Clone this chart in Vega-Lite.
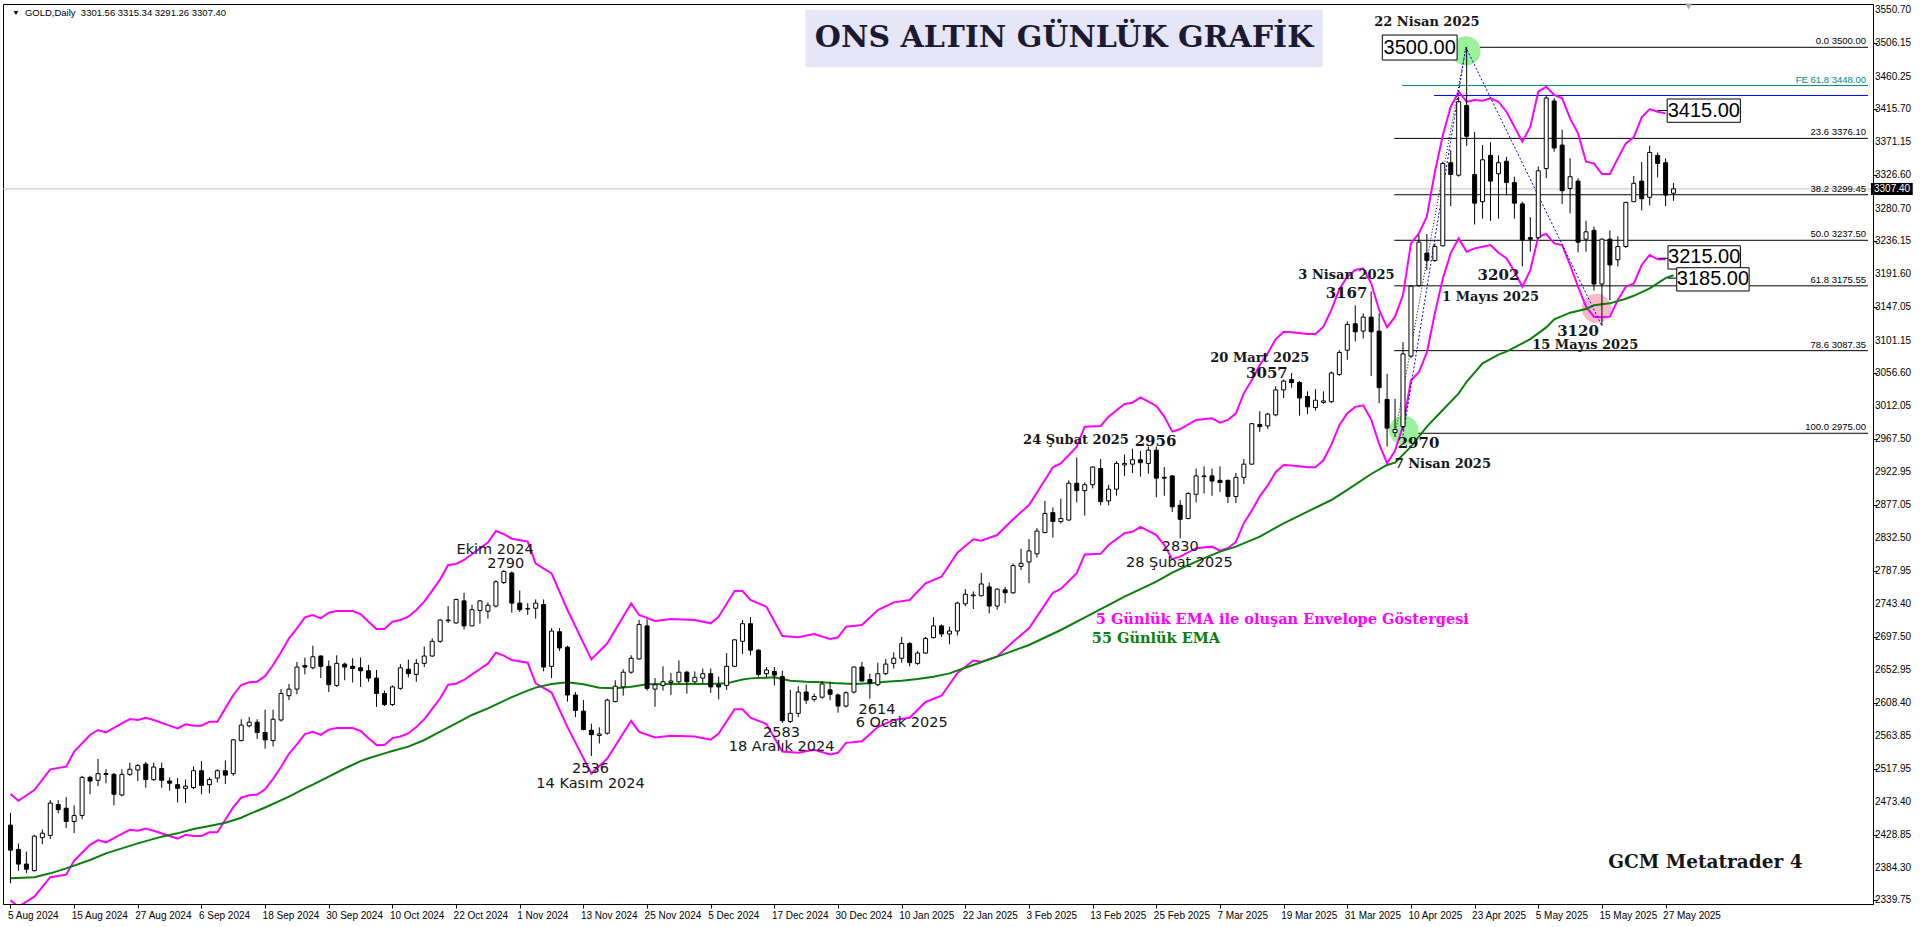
{
"$schema": "https://vega.github.io/schema/vega-lite/v6.json",
"width": 1870, "height": 900,
"autosize": {"type": "none"},
"padding": {"left": 3, "top": 4, "right": 47, "bottom": 23},
"background": "white",
"config": {
  "view": {"stroke": "black", "strokeWidth": 1},
  "axis": {"labelFont": "Liberation Sans", "labelFontSize": 10, "labelColor": "black", "domainColor": "black", "tickColor": "black", "grid": false, "tickSize": 4, "labelFlush": false}
},
"datasets": {
"one": [{}],
"yt": [{"v":3550.70},{"v":3506.15},{"v":3460.25},{"v":3415.70},{"v":3371.15},{"v":3326.60},{"v":3280.70},{"v":3236.15},{"v":3191.60},{"v":3147.05},{"v":3101.15},{"v":3056.60},{"v":3012.05},{"v":2967.50},{"v":2922.95},{"v":2877.05},{"v":2832.50},{"v":2787.95},{"v":2743.40},{"v":2697.50},{"v":2652.95},{"v":2608.40},{"v":2563.85},{"v":2517.95},{"v":2473.40},{"v":2428.85},{"v":2384.30},{"v":2339.75}],
"c": [
{"i":0,"o":2442,"h":2459,"l":2363,"c":2408},{"i":1,"o":2409,"h":2417,"l":2380,"c":2389},{"i":2,"o":2389,"h":2406,"l":2377,"c":2382},{"i":3,"o":2380,"h":2429,"l":2379,"c":2427},{"i":4,"o":2425,"h":2436,"l":2416,"c":2431},
{"i":5,"o":2428,"h":2476,"l":2423,"c":2472},{"i":6,"o":2470,"h":2476,"l":2458,"c":2463},{"i":7,"o":2465,"h":2480,"l":2438,"c":2447},{"i":8,"o":2447,"h":2469,"l":2431,"c":2455},{"i":9,"o":2455,"h":2509,"l":2450,"c":2507},
{"i":10,"o":2507,"h":2509,"l":2484,"c":2502},{"i":11,"o":2503,"h":2532,"l":2495,"c":2512},{"i":12,"o":2512,"h":2518,"l":2499,"c":2511},{"i":13,"o":2511,"h":2513,"l":2469,"c":2484},{"i":14,"o":2483,"h":2518,"l":2481,"c":2511},
{"i":15,"o":2511,"h":2527,"l":2509,"c":2518},{"i":16,"o":2517,"h":2525,"l":2502,"c":2523},{"i":17,"o":2525,"h":2528,"l":2493,"c":2504},{"i":18,"o":2504,"h":2527,"l":2502,"c":2521},{"i":19,"o":2519,"h":2527,"l":2493,"c":2503},
{"i":20,"o":2502,"h":2507,"l":2489,"c":2499},{"i":21,"o":2497,"h":2506,"l":2473,"c":2492},{"i":22,"o":2492,"h":2504,"l":2472,"c":2495},{"i":23,"o":2493,"h":2522,"l":2491,"c":2516},{"i":24,"o":2516,"h":2529,"l":2484,"c":2496},
{"i":25,"o":2497,"h":2507,"l":2485,"c":2504},{"i":26,"o":2506,"h":2518,"l":2500,"c":2516},{"i":27,"o":2516,"h":2530,"l":2498,"c":2510},{"i":28,"o":2512,"h":2559,"l":2509,"c":2558},{"i":29,"o":2557,"h":2586,"l":2556,"c":2578},
{"i":30,"o":2577,"h":2589,"l":2575,"c":2582},{"i":31,"o":2582,"h":2586,"l":2559,"c":2568},{"i":32,"o":2568,"h":2599,"l":2546,"c":2558},{"i":33,"o":2557,"h":2599,"l":2549,"c":2586},{"i":34,"o":2585,"h":2627,"l":2583,"c":2621},
{"i":35,"o":2618,"h":2634,"l":2612,"c":2627},{"i":36,"o":2627,"h":2664,"l":2620,"c":2657},{"i":37,"o":2659,"h":2670,"l":2647,"c":2657},{"i":38,"o":2656,"h":2686,"l":2654,"c":2671},{"i":39,"o":2672,"h":2673,"l":2642,"c":2658},
{"i":40,"o":2658,"h":2666,"l":2623,"c":2633},{"i":41,"o":2632,"h":2673,"l":2630,"c":2662},{"i":42,"o":2661,"h":2663,"l":2639,"c":2657},{"i":43,"o":2658,"h":2669,"l":2636,"c":2655},{"i":44,"o":2656,"h":2670,"l":2630,"c":2652},
{"i":45,"o":2652,"h":2660,"l":2637,"c":2642},{"i":46,"o":2642,"h":2653,"l":2603,"c":2621},{"i":47,"o":2621,"h":2625,"l":2604,"c":2606},{"i":48,"o":2606,"h":2632,"l":2604,"c":2630},{"i":49,"o":2628,"h":2661,"l":2626,"c":2656},
{"i":50,"o":2654,"h":2667,"l":2643,"c":2648},{"i":51,"o":2647,"h":2668,"l":2637,"c":2662},{"i":52,"o":2662,"h":2685,"l":2657,"c":2672},{"i":53,"o":2672,"h":2696,"l":2671,"c":2692},{"i":54,"o":2692,"h":2722,"l":2690,"c":2721},
{"i":55,"o":2720,"h":2740,"l":2717,"c":2721},{"i":56,"o":2717,"h":2750,"l":2716,"c":2749},{"i":57,"o":2747,"h":2758,"l":2708,"c":2713},{"i":58,"o":2713,"h":2742,"l":2713,"c":2735},{"i":59,"o":2734,"h":2748,"l":2716,"c":2747},
{"i":60,"o":2733,"h":2745,"l":2723,"c":2741},{"i":61,"o":2740,"h":2775,"l":2738,"c":2773},{"i":62,"o":2772,"h":2789,"l":2770,"c":2787},{"i":63,"o":2785,"h":2787,"l":2731,"c":2744},{"i":64,"o":2744,"h":2761,"l":2732,"c":2735},
{"i":65,"o":2736,"h":2744,"l":2728,"c":2736.5},{"i":66,"o":2737,"h":2749,"l":2723,"c":2744},{"i":67,"o":2742,"h":2749,"l":2651,"c":2657},{"i":68,"o":2658,"h":2710,"l":2642,"c":2706},{"i":69,"o":2705,"h":2710,"l":2679,"c":2683},
{"i":70,"o":2684,"h":2686,"l":2610,"c":2619},{"i":71,"o":2619,"h":2623,"l":2589,"c":2598},{"i":72,"o":2597,"h":2612,"l":2571,"c":2572},{"i":73,"o":2571,"h":2580,"l":2536,"c":2565},{"i":74,"o":2564,"h":2575,"l":2553,"c":2566},
{"i":75,"o":2567,"h":2614,"l":2565,"c":2612},{"i":76,"o":2610,"h":2639,"l":2609,"c":2631},{"i":77,"o":2630,"h":2654,"l":2618,"c":2650},{"i":78,"o":2650,"h":2673,"l":2648,"c":2669},{"i":79,"o":2668,"h":2721,"l":2667,"c":2715},
{"i":80,"o":2713,"h":2722,"l":2625,"c":2628},{"i":81,"o":2627,"h":2642,"l":2603,"c":2633},{"i":82,"o":2632,"h":2658,"l":2625,"c":2637},{"i":83,"o":2636,"h":2649,"l":2619,"c":2638},{"i":84,"o":2637,"h":2666,"l":2635,"c":2650},
{"i":85,"o":2650,"h":2652,"l":2621,"c":2637},{"i":86,"o":2637,"h":2651,"l":2634,"c":2643},{"i":87,"o":2642,"h":2655,"l":2635,"c":2648},{"i":88,"o":2648,"h":2655,"l":2622,"c":2630},{"i":89,"o":2633,"h":2644,"l":2613,"c":2630},
{"i":90,"o":2632,"h":2676,"l":2626,"c":2658},{"i":91,"o":2658,"h":2695,"l":2657,"c":2694},{"i":92,"o":2692,"h":2721,"l":2675,"c":2716},{"i":93,"o":2716,"h":2725,"l":2673,"c":2680},{"i":94,"o":2680,"h":2681,"l":2644,"c":2647},
{"i":95,"o":2648,"h":2657,"l":2643,"c":2653},{"i":96,"o":2651,"h":2657,"l":2632,"c":2646},{"i":97,"o":2644,"h":2652,"l":2581,"c":2584},{"i":98,"o":2583,"h":2626,"l":2581,"c":2594},{"i":99,"o":2594,"h":2631,"l":2589,"c":2623},
{"i":100,"o":2623,"h":2633,"l":2607,"c":2612},{"i":101,"o":2613,"h":2621,"l":2610,"c":2617},{"i":102,"o":2616,"h":2638,"l":2614,"c":2634},{"i":103,"o":2626,"h":2637,"l":2612,"c":2620},{"i":104,"o":2619,"h":2621,"l":2595,"c":2604},
{"i":105,"o":2604,"h":2624,"l":2602,"c":2622},{"i":106,"o":2623,"h":2658,"l":2621,"c":2657},{"i":107,"o":2657,"h":2664,"l":2637,"c":2638},{"i":108,"o":2640,"h":2648,"l":2614,"c":2635},{"i":109,"o":2633,"h":2663,"l":2631,"c":2648},
{"i":110,"o":2648,"h":2668,"l":2646,"c":2661},{"i":111,"o":2662,"h":2677,"l":2655,"c":2669},{"i":112,"o":2669,"h":2698,"l":2663,"c":2689},{"i":113,"o":2689,"h":2691,"l":2658,"c":2663},{"i":114,"o":2662,"h":2679,"l":2660,"c":2676},
{"i":115,"o":2676,"h":2698,"l":2675,"c":2696},{"i":116,"o":2697,"h":2725,"l":2696,"c":2713},{"i":117,"o":2713,"h":2715,"l":2698,"c":2702},{"i":118,"o":2702,"h":2712,"l":2688,"c":2706},{"i":119,"o":2706,"h":2746,"l":2700,"c":2744},
{"i":120,"o":2743,"h":2763,"l":2740,"c":2756},{"i":121,"o":2754,"h":2760,"l":2736,"c":2755},{"i":122,"o":2754,"h":2785,"l":2753,"c":2770},{"i":123,"o":2766,"h":2772,"l":2730,"c":2740},{"i":124,"o":2740,"h":2764,"l":2735,"c":2763},
{"i":125,"o":2762,"h":2766,"l":2744,"c":2758},{"i":126,"o":2758,"h":2798,"l":2757,"c":2795},{"i":127,"o":2794,"h":2818,"l":2789,"c":2798},{"i":128,"o":2800,"h":2831,"l":2771,"c":2815},{"i":129,"o":2811,"h":2846,"l":2806,"c":2842},
{"i":130,"o":2840,"h":2883,"l":2839,"c":2866},{"i":131,"o":2867,"h":2874,"l":2833,"c":2855},{"i":132,"o":2855,"h":2886,"l":2852,"c":2859},{"i":133,"o":2857,"h":2911,"l":2856,"c":2907},{"i":134,"o":2907,"h":2942,"l":2881,"c":2897},
{"i":135,"o":2897,"h":2908,"l":2863,"c":2905},{"i":136,"o":2905,"h":2930,"l":2900,"c":2929},{"i":137,"o":2927,"h":2940,"l":2877,"c":2882},{"i":138,"o":2883,"h":2905,"l":2877,"c":2899},{"i":139,"o":2899,"h":2937,"l":2890,"c":2934},
{"i":140,"o":2932,"h":2946,"l":2917,"c":2934},{"i":141,"o":2933,"h":2954,"l":2921,"c":2939},{"i":142,"o":2939,"h":2951,"l":2916,"c":2935},{"i":143,"o":2934,"h":2957,"l":2920,"c":2952},{"i":144,"o":2952,"h":2957,"l":2888,"c":2914},
{"i":145,"o":2915,"h":2929,"l":2890,"c":2914},{"i":146,"o":2917,"h":2918,"l":2868,"c":2875},{"i":147,"o":2877,"h":2884,"l":2832,"c":2858},{"i":148,"o":2859,"h":2895,"l":2858,"c":2893},{"i":149,"o":2892,"h":2927,"l":2881,"c":2917},
{"i":150,"o":2916,"h":2930,"l":2893,"c":2917},{"i":151,"o":2917,"h":2927,"l":2890,"c":2910},{"i":152,"o":2911,"h":2930,"l":2895,"c":2908},{"i":153,"o":2911,"h":2912,"l":2880,"c":2889},{"i":154,"o":2889,"h":2921,"l":2880,"c":2915},
{"i":155,"o":2915,"h":2940,"l":2906,"c":2933},{"i":156,"o":2933,"h":2989,"l":2932,"c":2988},{"i":157,"o":2987,"h":3005,"l":2977,"c":2984},{"i":158,"o":2985,"h":3003,"l":2981,"c":3001},{"i":159,"o":3000,"h":3039,"l":2998,"c":3034},
{"i":160,"o":3034,"h":3048,"l":3023,"c":3046},{"i":161,"o":3048,"h":3057,"l":3037,"c":3044},{"i":162,"o":3044,"h":3046,"l":2999,"c":3023},{"i":163,"o":3025,"h":3032,"l":3001,"c":3011},{"i":164,"o":3010,"h":3035,"l":3006,"c":3020},
{"i":165,"o":3017,"h":3032,"l":3015,"c":3019},{"i":166,"o":3018,"h":3059,"l":3016,"c":3057},{"i":167,"o":3055,"h":3088,"l":3053,"c":3085},{"i":168,"o":3088,"h":3127,"l":3075,"c":3123},{"i":169,"o":3124,"h":3149,"l":3100,"c":3113},
{"i":170,"o":3114,"h":3138,"l":3104,"c":3133},{"i":171,"o":3133,"h":3168,"l":3053,"c":3113},{"i":172,"o":3114,"h":3138,"l":3016,"c":3037},{"i":173,"o":3021,"h":3056,"l":2957,"c":2982},{"i":174,"o":2976,"h":3022,"l":2970,"c":2980},
{"i":175,"o":2984,"h":3099,"l":2979,"c":3083},{"i":176,"o":3080,"h":3176,"l":3077,"c":3175},{"i":177,"o":3176,"h":3245,"l":3174,"c":3235},{"i":178,"o":3220,"h":3246,"l":3197,"c":3210},{"i":179,"o":3210,"h":3233,"l":3208,"c":3229},
{"i":180,"o":3230,"h":3344,"l":3229,"c":3342},{"i":181,"o":3343,"h":3360,"l":3284,"c":3327},{"i":182,"o":3326,"h":3433,"l":3324,"c":3426},{"i":183,"o":3421,"h":3500,"l":3366,"c":3379},{"i":184,"o":3327,"h":3385,"l":3259,"c":3288},
{"i":185,"o":3290,"h":3367,"l":3267,"c":3347},{"i":186,"o":3353,"h":3371,"l":3264,"c":3318},{"i":187,"o":3328,"h":3353,"l":3267,"c":3343},{"i":188,"o":3345,"h":3351,"l":3299,"c":3316},{"i":189,"o":3316,"h":3324,"l":3267,"c":3288},
{"i":190,"o":3287,"h":3290,"l":3202,"c":3238},{"i":191,"o":3241,"h":3269,"l":3222,"c":3239},{"i":192,"o":3241,"h":3338,"l":3239,"c":3332},{"i":193,"o":3335,"h":3434,"l":3322,"c":3431},{"i":194,"o":3427,"h":3431,"l":3358,"c":3363},
{"i":195,"o":3367,"h":3388,"l":3287,"c":3305},{"i":196,"o":3308,"h":3349,"l":3274,"c":3324},{"i":197,"o":3318,"h":3322,"l":3221,"c":3235},{"i":198,"o":3239,"h":3264,"l":3222,"c":3249},{"i":199,"o":3251,"h":3256,"l":3169,"c":3178},
{"i":200,"o":3178,"h":3240,"l":3121,"c":3239},{"i":201,"o":3239,"h":3251,"l":3156,"c":3204},{"i":202,"o":3211,"h":3243,"l":3202,"c":3229},{"i":203,"o":3229,"h":3290,"l":3227,"c":3289},{"i":204,"o":3290,"h":3325,"l":3290,"c":3315},
{"i":205,"o":3318,"h":3344,"l":3278,"c":3294},{"i":206,"o":3296,"h":3366,"l":3285,"c":3357},{"i":207,"o":3353,"h":3357,"l":3323,"c":3342},{"i":208,"o":3343,"h":3349,"l":3284,"c":3299},{"i":209,"o":3301.56,"h":3315.34,"l":3291.26,"c":3307.4}
],
"env": [
{"i":0,"u":2484.3,"lo":2339.6},{"i":1,"u":2475.2,"lo":2331.0},{"i":3,"u":2489.7,"lo":2344.7},{"i":5,"u":2517.9,"lo":2371.2},{"i":7,"u":2521.5,"lo":2374.6},{"i":8,"u":2541.9,"lo":2393.8},
{"i":10,"u":2564.6,"lo":2415.2},{"i":11,"u":2571.4,"lo":2421.6},{"i":12,"u":2568.2,"lo":2418.6},{"i":14,"u":2580.4,"lo":2430.1},{"i":15,"u":2586.3,"lo":2435.7},{"i":16,"u":2585,"lo":2434.4},
{"i":17,"u":2588.1,"lo":2437.4},{"i":18,"u":2585,"lo":2434.4},{"i":20,"u":2577.3,"lo":2427.2},{"i":21,"u":2573.6,"lo":2423.7},{"i":22,"u":2579.1,"lo":2428.9},{"i":23,"u":2577.3,"lo":2427.2},
{"i":24,"u":2577.3,"lo":2427.2},{"i":25,"u":2582.7,"lo":2432.3},{"i":26,"u":2582.7,"lo":2432.3},{"i":27,"u":2600.8,"lo":2449.3},{"i":28,"u":2619,"lo":2466.4},{"i":29,"u":2632.6,"lo":2479.3},
{"i":30,"u":2636.2,"lo":2482.7},{"i":31,"u":2637.1,"lo":2483.5},{"i":32,"u":2644.8,"lo":2490.8},{"i":33,"u":2659.8,"lo":2504.9},{"i":34,"u":2677,"lo":2521.1},{"i":35,"u":2696,"lo":2539.0},
{"i":36,"u":2709.6,"lo":2551.8},{"i":37,"u":2724.6,"lo":2565.9},{"i":38,"u":2727.8,"lo":2568.9},{"i":39,"u":2723.3,"lo":2564.7},{"i":40,"u":2731,"lo":2571.9},{"i":41,"u":2733.2,"lo":2574.0},
{"i":43,"u":2733.2,"lo":2574.0},{"i":44,"u":2729.1,"lo":2570.1},{"i":45,"u":2718.7,"lo":2560.3},{"i":46,"u":2708.7,"lo":2550.9},{"i":47,"u":2708.7,"lo":2550.9},{"i":48,"u":2718.7,"lo":2560.3},
{"i":49,"u":2721,"lo":2562.5},{"i":50,"u":2725.5,"lo":2566.7},{"i":51,"u":2734.6,"lo":2575.3},{"i":52,"u":2745.9,"lo":2585.9},{"i":53,"u":2760.9,"lo":2600.1},{"i":54,"u":2776.3,"lo":2614.6},
{"i":55,"u":2795.8,"lo":2633.0},{"i":56,"u":2797.2,"lo":2634.3},{"i":57,"u":2802.6,"lo":2639.4},{"i":58,"u":2810.8,"lo":2647.1},{"i":59,"u":2818.5,"lo":2654.3},{"i":60,"u":2826.2,"lo":2661.6},
{"i":61,"u":2842.1,"lo":2676.5},{"i":62,"u":2837.8,"lo":2672.5},{"i":63,"u":2831.6,"lo":2666.6},{"i":65,"u":2827.7,"lo":2663.0},{"i":66,"u":2797.8,"lo":2634.8},{"i":68,"u":2784.5,"lo":2622.3},
{"i":70,"u":2734.6,"lo":2575.3},{"i":73,"u":2667.5,"lo":2512.2},{"i":75,"u":2689.3,"lo":2532.6},{"i":78,"u":2743.7,"lo":2583.9},{"i":79,"u":2727.8,"lo":2568.9},{"i":81,"u":2719.6,"lo":2561.2},
{"i":83,"u":2722.3,"lo":2563.7},{"i":86,"u":2721,"lo":2562.5},{"i":88,"u":2716.5,"lo":2558.3},{"i":89,"u":2725.5,"lo":2566.7},{"i":91,"u":2760.4,"lo":2599.6},{"i":92,"u":2760.4,"lo":2599.6},
{"i":93,"u":2748.2,"lo":2588.1},{"i":95,"u":2739.1,"lo":2579.6},{"i":97,"u":2699.2,"lo":2542.0},{"i":99,"u":2697.4,"lo":2540.3},{"i":101,"u":2701.9,"lo":2544.5},{"i":103,"u":2695.1,"lo":2538.1},
{"i":104,"u":2697.4,"lo":2540.3},{"i":105,"u":2711.9,"lo":2553.9},{"i":107,"u":2714.2,"lo":2556.1},{"i":109,"u":2734.6,"lo":2575.3},{"i":111,"u":2745,"lo":2585.1},{"i":113,"u":2748.2,"lo":2588.1},
{"i":115,"u":2770.9,"lo":2609.5},{"i":117,"u":2779.9,"lo":2618.0},{"i":119,"u":2812.6,"lo":2648.8},{"i":121,"u":2830.7,"lo":2665.8},{"i":122,"u":2828.9,"lo":2664.1},{"i":124,"u":2836.6,"lo":2671.4},
{"i":126,"u":2858,"lo":2691.5},{"i":128,"u":2877.4,"lo":2709.8},{"i":130,"u":2911.5,"lo":2741.9},{"i":131,"u":2928.7,"lo":2758.1},{"i":132,"u":2934.1,"lo":2763.2},{"i":134,"u":2956.8,"lo":2784.6},
{"i":135,"u":2984,"lo":2810.2},{"i":137,"u":2984.9,"lo":2811.0},{"i":138,"u":2997.6,"lo":2823.0},{"i":140,"u":3014.8,"lo":2839.2},{"i":141,"u":3016.6,"lo":2840.9},{"i":142,"u":3023.9,"lo":2847.8},
{"i":143,"u":3018,"lo":2842.2},{"i":144,"u":3012.1,"lo":2836.6},{"i":145,"u":2997.6,"lo":2823.0},{"i":146,"u":2977.2,"lo":2803.8},{"i":147,"u":2980.8,"lo":2807.2},{"i":149,"u":2993.1,"lo":2818.7},
{"i":151,"u":2995.3,"lo":2820.8},{"i":152,"u":2989.4,"lo":2815.3},{"i":153,"u":2993.1,"lo":2818.7},{"i":154,"u":3002.1,"lo":2827.2},{"i":155,"u":3029.3,"lo":2852.8},{"i":156,"u":3047.5,"lo":2870.0},
{"i":157,"u":3067.9,"lo":2889.2},{"i":158,"u":3083.7,"lo":2904.1},{"i":159,"u":3102.8,"lo":2922.1},{"i":160,"u":3113.2,"lo":2931.9},{"i":161,"u":3112.3,"lo":2931.0},{"i":163,"u":3110,"lo":2928.8},
{"i":164,"u":3110,"lo":2928.8},{"i":165,"u":3120,"lo":2938.2},{"i":166,"u":3142.7,"lo":2959.6},{"i":167,"u":3170.8,"lo":2986.1},{"i":168,"u":3188,"lo":3002.3},{"i":169,"u":3197.1,"lo":3010.9},
{"i":170,"u":3199.4,"lo":3013.0},{"i":171,"u":3179,"lo":2993.8},{"i":172,"u":3142.7,"lo":2960.5},{"i":173,"u":3119.1,"lo":2934.1},{"i":174,"u":3133.6,"lo":2951.1},{"i":175,"u":3163,"lo":2985},
{"i":176,"u":3233.3,"lo":3047},{"i":177,"u":3246.9,"lo":3058},{"i":178,"u":3270,"lo":3085},{"i":179,"u":3330,"lo":3138},{"i":180,"u":3380,"lo":3185},{"i":181,"u":3419.2,"lo":3220},
{"i":182,"u":3439.6,"lo":3240.1},{"i":183,"u":3426,"lo":3222},{"i":184,"u":3428.3,"lo":3226.5},{"i":185,"u":3427.4,"lo":3228.8},{"i":186,"u":3430.6,"lo":3231},{"i":187,"u":3426,"lo":3220.6},
{"i":188,"u":3412.4,"lo":3213},{"i":189,"u":3392,"lo":3195},{"i":190,"u":3371.6,"lo":3174.4},{"i":191,"u":3392,"lo":3197},{"i":192,"u":3439.6,"lo":3242.4},{"i":193,"u":3446.4,"lo":3246},
{"i":194,"u":3435.1,"lo":3233.3},{"i":195,"u":3430.6,"lo":3231},{"i":196,"u":3403.3,"lo":3203.9},{"i":197,"u":3382.9,"lo":3174.4},{"i":198,"u":3344.4,"lo":3147.2},{"i":199,"u":3342.1,"lo":3133.6},
{"i":200,"u":3327.6,"lo":3132.7},{"i":201,"u":3327.6,"lo":3133.6},{"i":202,"u":3348.9,"lo":3156.2},{"i":203,"u":3369.3,"lo":3174.4},{"i":204,"u":3377.5,"lo":3178.9},{"i":205,"u":3404.7,"lo":3203.9},
{"i":206,"u":3416,"lo":3217.5},{"i":207,"u":3412.4,"lo":3211.6},{"i":208,"u":3410.1,"lo":3211.6}
],
"ema": [
{"i":0,"v":2369.6},{"i":3,"v":2371},{"i":5,"v":2376.4},{"i":7,"v":2383.2},{"i":10,"v":2394.5},{"i":12,"v":2403.6},{"i":14,"v":2410.4},{"i":16,"v":2417.2},{"i":19,"v":2426.3},{"i":21,"v":2430.8},
{"i":23,"v":2436.7},{"i":25,"v":2440.8},{"i":27,"v":2445.3},{"i":29,"v":2452},{"i":30,"v":2457},{"i":32,"v":2466},{"i":35,"v":2480.7},{"i":37,"v":2492},{"i":38,"v":2497},{"i":40,"v":2508},
{"i":42,"v":2519},{"i":44,"v":2529},{"i":45,"v":2533},{"i":47,"v":2539.6},{"i":48,"v":2542.8},{"i":50,"v":2548.7},{"i":52,"v":2557.8},{"i":54,"v":2569.1},{"i":56,"v":2580.4},{"i":58,"v":2591.8},
{"i":60,"v":2600.8},{"i":61,"v":2606},{"i":63,"v":2616},{"i":65,"v":2625},{"i":66,"v":2629},{"i":68,"v":2634},{"i":70,"v":2636.2},{"i":72,"v":2633.6},{"i":74,"v":2629},{"i":76,"v":2628.1},
{"i":78,"v":2630.3},{"i":80,"v":2633.5},{"i":84,"v":2633.9},{"i":88,"v":2633.9},{"i":90,"v":2634.8},{"i":92,"v":2640},{"i":93,"v":2641.6},{"i":96,"v":2643},{"i":97,"v":2640.7},{"i":98,"v":2638.5},
{"i":100,"v":2637.1},{"i":102,"v":2636.2},{"i":104,"v":2634.8},{"i":106,"v":2633.9},{"i":108,"v":2634.8},{"i":110,"v":2637.1},{"i":112,"v":2638.5},{"i":114,"v":2640.7},{"i":116,"v":2643.9},{"i":118,"v":2648.4},
{"i":120,"v":2656},{"i":124,"v":2671.2},{"i":128,"v":2687},{"i":132,"v":2707.4},{"i":136,"v":2730.1},{"i":140,"v":2752.8},{"i":144,"v":2773.2},{"i":146,"v":2785.4},{"i":149,"v":2800.4},{"i":152,"v":2814},
{"i":154,"v":2820.8},{"i":157,"v":2834.4},{"i":160,"v":2852.5},{"i":163,"v":2868.4},{"i":166,"v":2884.2},{"i":168,"v":2897.9},{"i":171,"v":2919.6},{"i":173,"v":2931.9},{"i":174,"v":2935},{"i":176,"v":2956.8},
{"i":178,"v":2984},{"i":180,"v":3006.6},{"i":182,"v":3029.3},{"i":183,"v":3045},{"i":185,"v":3070.1},{"i":187,"v":3082},{"i":188,"v":3086},{"i":190,"v":3097.3},{"i":191,"v":3103},{"i":193,"v":3119},
{"i":194,"v":3130},{"i":196,"v":3139},{"i":198,"v":3144},{"i":199,"v":3149},{"i":201,"v":3151.7},{"i":203,"v":3158},{"i":204,"v":3162},{"i":206,"v":3172.1},{"i":208,"v":3186},{"i":209,"v":3190}
],
"fib": [
{"t":"0.0 3500.00","p":3500},{"t":"23.6 3376.10","p":3376.1},{"t":"38.2 3299.45","p":3299.45},{"t":"50.0 3237.50","p":3237.5},{"t":"61.8 3175.55","p":3175.55},{"t":"78.6 3087.35","p":3087.35},{"t":"100.0 2975.00","p":2975}
],
"circ": [{"i":182.9,"p":3495,"k":"g"},{"i":175.1,"p":2979,"k":"g"},{"i":199.3,"p":3145,"k":"r"}],
"dk": [{"i":174.1,"p":2979},{"i":182.9,"p":3500}],
"db": [{"i":175,"p":2972},{"i":182.9,"p":3500},{"i":200,"p":3121}],
"ann": [
{"k":"sd","t":"22 Nisan 2025","i":178,"p":3534.5},
{"k":"sd","t":"3 Nisan 2025","i":167.9,"p":3189.6},
{"k":"sd","t":"20 Mart 2025","i":157,"p":3076.9},
{"k":"sd","t":"24 Şubat 2025","i":133.9,"p":2965.9},
{"k":"sd","t":"7 Nisan 2025","i":180,"p":2933.2},
{"k":"sd","t":"1 Mayıs 2025","i":186,"p":3159.7},
{"k":"sd","t":"15 Mayıs 2025","i":197.9,"p":3095.7},
{"k":"sn","t":"3167","i":167.9,"p":3165.8},
{"k":"sn","t":"3057","i":157.9,"p":3057.6},
{"k":"sn","t":"2956","i":143.9,"p":2964.5},
{"k":"sn","t":"2970","i":176.95,"p":2962},
{"k":"sn","t":"3202","i":187,"p":3190.8},
{"k":"sn","t":"3120","i":197,"p":3114},
{"k":"ss","t":"Ekim 2024","i":60.9,"p":2816.5},
{"k":"ss","t":"2790","i":62.25,"p":2797.5},
{"k":"ss","t":"2536","i":72.9,"p":2518.5},
{"k":"ss","t":"14 Kasım 2024","i":72.9,"p":2498.3},
{"k":"ss","t":"2583","i":96.9,"p":2567.5},
{"k":"ss","t":"18 Aralık 2024","i":96.9,"p":2548.3},
{"k":"ss","t":"2614","i":108.9,"p":2599},
{"k":"ss","t":"6 Ocak 2025","i":112,"p":2580.9},
{"k":"ss","t":"2830","i":147,"p":2820},
{"k":"ss","t":"28 Şubat 2025","i":146.9,"p":2799}
],
"boxes": [
{"t":"3500.00","a":172.4,"b":181.8,"y1":3516.7,"y2":3482.7,"xc":177.1,"yc":3499.7},
{"t":"3415.00","a":208.2,"b":217.4,"y1":3429.7,"y2":3398.0,"xc":212.8,"yc":3413.9},
{"t":"3215.00","a":208.3,"b":217.4,"y1":3230.1,"y2":3198.4,"xc":212.85,"yc":3214.2},
{"t":"3185.00","a":209.4,"b":218.5,"y1":3200.2,"y2":3168.5,"xc":213.95,"yc":3184.4}
],
"leads": [{"a":207.0,"b":208.2,"p":3414},{"a":207.1,"b":208.3,"p":3213},{"a":208.3,"b":209.4,"p":3186}]
},
"layer": [
{"data":{"values":[{"a":99.9,"b":164.9,"y1":3551,"y2":3472.8}]},"mark":{"type":"rect","fill":"#e6e6f7"},
 "encoding":{"x":{"field":"a","type":"quantitative","scale":{"domain":[-0.3125,233.4375],"nice":false,"zero":false}},"x2":{"field":"b"},
 "y":{"field":"y1","type":"quantitative","scale":{"domain":[2334.7,3558.9],"nice":false,"zero":false}},"y2":{"field":"y2"}}},
{"data":{"name":"one"},"mark":{"type":"rule","color":"#c0c0c0","strokeWidth":1},"encoding":{"y":{"datum":3307.4,"type":"quantitative"}}},
{"data":{"name":"fib"},"mark":{"type":"rule","color":"black","strokeWidth":1},
 "encoding":{"x":{"datum":173.9,"type":"quantitative"},"x2":{"datum":233.4375},"y":{"field":"p","type":"quantitative"}}},
{"data":{"name":"one"},"mark":{"type":"rule","color":"#008b8b","strokeWidth":1},"encoding":{"x":{"datum":174.9,"type":"quantitative"},"x2":{"datum":233.4375},"y":{"datum":3448,"type":"quantitative"}}},
{"data":{"name":"one"},"mark":{"type":"rule","color":"#0000ff","strokeWidth":1},"encoding":{"x":{"datum":178.9,"type":"quantitative"},"x2":{"datum":233.4375},"y":{"datum":3434.5,"type":"quantitative"}}},
{"data":{"name":"circ"},"mark":{"type":"point","filled":true,"opacity":1,"size":860,"shape":"circle"},
 "encoding":{"x":{"field":"i","type":"quantitative"},"y":{"field":"p","type":"quantitative"},
 "color":{"field":"k","type":"nominal","scale":{"domain":["g","r"],"range":["#9cf29c","#f8bac6"]},"legend":null}}},
{"data":{"name":"env"},"mark":{"type":"line","color":"#ff00ff","strokeWidth":2,"clip":true},
 "encoding":{"x":{"field":"i","type":"quantitative"},"y":{"field":"u","type":"quantitative"}}},
{"data":{"name":"env"},"mark":{"type":"line","color":"#ff00ff","strokeWidth":2,"clip":true},
 "encoding":{"x":{"field":"i","type":"quantitative"},"y":{"field":"lo","type":"quantitative"}}},
{"data":{"name":"ema"},"mark":{"type":"line","color":"#0a7f0a","strokeWidth":2,"clip":true},
 "encoding":{"x":{"field":"i","type":"quantitative"},"y":{"field":"v","type":"quantitative"}}},
{"data":{"name":"dk"},"mark":{"type":"line","color":"black","strokeWidth":1,"strokeDash":[1,2]},
 "encoding":{"x":{"field":"i","type":"quantitative"},"y":{"field":"p","type":"quantitative"}}},
{"data":{"name":"db"},"mark":{"type":"line","color":"#0000ff","strokeWidth":1,"strokeDash":[2,2]},
 "encoding":{"x":{"field":"i","type":"quantitative"},"y":{"field":"p","type":"quantitative"}}},
{"data":{"name":"c"},"mark":{"type":"rule","color":"black","strokeWidth":1},
 "encoding":{"x":{"field":"i","type":"quantitative"},"y":{"field":"l","type":"quantitative"},"y2":{"field":"h"}}},
{"data":{"name":"c"},"mark":{"type":"bar","stroke":"black","strokeWidth":1},
 "encoding":{
  "x":{"field":"i","type":"quantitative","scale":{"domain":[-0.3125,233.4375],"nice":false,"zero":false},
   "axis":{"title":null,"values":[0,8,16,24,32,40,48,56,64,72,80,88,96,104,112,120,128,136,144,152,160,168,176,184,192,200,208],
    "labelAlign":"left","labelOffset":-3,"labelPadding":2,"labelFlush":false,"labelOverlap":false,
    "labelExpr":"['5 Aug 2024','15 Aug 2024','27 Aug 2024','6 Sep 2024','18 Sep 2024','30 Sep 2024','10 Oct 2024','22 Oct 2024','1 Nov 2024','13 Nov 2024','25 Nov 2024','5 Dec 2024','17 Dec 2024','30 Dec 2024','10 Jan 2025','22 Jan 2025','3 Feb 2025','13 Feb 2025','25 Feb 2025','7 Mar 2025','19 Mar 2025','31 Mar 2025','10 Apr 2025','23 Apr 2025','5 May 2025','15 May 2025','27 May 2025'][round(datum.value/8)]"}},
  "y":{"field":"o","type":"quantitative","scale":{"domain":[2334.7,3558.9],"nice":false,"zero":false},
   "axis":{"title":null,"orient":"right","labels":false,"values":[3550.70,3506.15,3460.25,3415.70,3371.15,3326.60,3280.70,3236.15,3191.60,3147.05,3101.15,3056.60,3012.05,2967.50,2922.95,2877.05,2832.50,2787.95,2743.40,2697.50,2652.95,2608.40,2563.85,2517.95,2473.40,2428.85,2384.30,2339.75]}},
  "y2":{"field":"c"},
  "size":{"value":4},
  "fill":{"condition":{"test":"datum.c >= datum.o","value":"white"},"value":"black"}}},
{"data":{"name":"yt"},"mark":{"type":"text","font":"Liberation Sans","fontSize":10,"color":"black","align":"left","baseline":"middle"},
 "encoding":{"x":{"datum":234.31,"type":"quantitative"},"y":{"field":"v","type":"quantitative"},"text":{"field":"v","type":"quantitative","format":".2f"}}},
{"data":{"name":"fib"},"mark":{"type":"text","font":"Liberation Sans","fontSize":9.5,"color":"black","align":"right","baseline":"bottom","dy":-1},
 "encoding":{"x":{"datum":233.19,"type":"quantitative"},"y":{"field":"p","type":"quantitative"},"text":{"field":"t"}}},
{"data":{"name":"one"},"mark":{"type":"text","font":"Liberation Sans","fontSize":9.5,"color":"#008b8b","align":"right","baseline":"bottom","dy":-1},
 "encoding":{"x":{"datum":233.19,"type":"quantitative"},"y":{"datum":3448,"type":"quantitative"},"text":{"value":"FE 61.8 3448.00"}}},
{"data":{"name":"ann"},"transform":[{"filter":"datum.k == 'sd'"}],"mark":{"type":"text","font":"DejaVu Serif","fontWeight":"bold","fontSize":13,"color":"#161616","align":"center","baseline":"middle"},
 "encoding":{"x":{"field":"i","type":"quantitative"},"y":{"field":"p","type":"quantitative"},"text":{"field":"t"}}},
{"data":{"name":"ann"},"transform":[{"filter":"datum.k == 'sn'"}],"mark":{"type":"text","font":"DejaVu Serif","fontWeight":"bold","fontSize":15,"color":"#161616","align":"center","baseline":"middle"},
 "encoding":{"x":{"field":"i","type":"quantitative"},"y":{"field":"p","type":"quantitative"},"text":{"field":"t"}}},
{"data":{"name":"ann"},"transform":[{"filter":"datum.k == 'ss'"}],"mark":{"type":"text","font":"DejaVu Sans","fontSize":14.5,"color":"#161616","align":"center","baseline":"middle"},
 "encoding":{"x":{"field":"i","type":"quantitative"},"y":{"field":"p","type":"quantitative"},"text":{"field":"t"}}},
{"data":{"name":"one"},"mark":{"type":"text","font":"DejaVu Serif","fontWeight":"bold","fontSize":14.5,"color":"#ff00ff","align":"left","baseline":"middle"},
 "encoding":{"x":{"datum":136.4,"type":"quantitative"},"y":{"datum":2721,"type":"quantitative"},"text":{"value":"5 Günlük EMA ile oluşan Envelope Göstergesi"}}},
{"data":{"name":"one"},"mark":{"type":"text","font":"DejaVu Serif","fontWeight":"bold","fontSize":14.5,"color":"#0a7f0a","align":"left","baseline":"middle"},
 "encoding":{"x":{"datum":135.9,"type":"quantitative"},"y":{"datum":2695.2,"type":"quantitative"},"text":{"value":"55 Günlük EMA"}}},
{"data":{"name":"one"},"mark":{"type":"text","font":"DejaVu Serif","fontWeight":"bold","fontSize":18.5,"color":"#161616","align":"center","baseline":"middle"},
 "encoding":{"x":{"datum":213,"type":"quantitative"},"y":{"datum":2391.8,"type":"quantitative"},"text":{"value":"GCM Metatrader 4"}}},
{"data":{"name":"one"},"mark":{"type":"text","font":"DejaVu Serif","fontWeight":"bold","fontSize":30,"color":"#1a1a33","align":"center","baseline":"middle"},
 "encoding":{"x":{"datum":132.4,"type":"quantitative"},"y":{"datum":3512,"type":"quantitative"},"text":{"value":"ONS ALTIN GÜNLÜK GRAFİK"}}},
{"data":{"name":"leads"},"mark":{"type":"rule","color":"black","strokeWidth":1},
 "encoding":{"x":{"field":"a","type":"quantitative"},"x2":{"field":"b"},"y":{"field":"p","type":"quantitative"}}},
{"data":{"name":"boxes"},"mark":{"type":"rect","fill":"white","stroke":"black","strokeWidth":1},
 "encoding":{"x":{"field":"a","type":"quantitative"},"x2":{"field":"b"},"y":{"field":"y1","type":"quantitative"},"y2":{"field":"y2"}}},
{"data":{"name":"boxes"},"mark":{"type":"text","font":"Liberation Sans","fontSize":20,"color":"black","align":"center","baseline":"middle"},
 "encoding":{"x":{"field":"xc","type":"quantitative"},"y":{"field":"yc","type":"quantitative"},"text":{"field":"t"}}},
{"data":{"name":"one"},"mark":{"type":"point","shape":"triangle-down","filled":true,"color":"black","size":22,"opacity":1},
 "encoding":{"x":{"datum":0.69,"type":"quantitative"},"y":{"datum":3546.7,"type":"quantitative"}}},
{"data":{"name":"one"},"mark":{"type":"text","font":"Liberation Sans","fontSize":9.5,"color":"black","align":"left","baseline":"middle"},
 "encoding":{"x":{"datum":1.81,"type":"quantitative"},"y":{"datum":3546.7,"type":"quantitative"},"text":{"value":"GOLD,Daily\u00a0\u00a03301.56 3315.34 3291.26 3307.40"}}},
{"data":{"name":"one"},"mark":{"type":"point","shape":"triangle-down","filled":true,"color":"#a8a8a8","size":45,"opacity":1},
 "encoding":{"x":{"datum":210.9,"type":"quantitative"},"y":{"datum":3555.5,"type":"quantitative"}}},
{"data":{"name":"one"},"mark":{"type":"rect","fill":"black"},
 "encoding":{"x":{"datum":233.81,"type":"quantitative"},"x2":{"datum":239.06},"y":{"datum":3315.4,"type":"quantitative"},"y2":{"datum":3299.1}}},
{"data":{"name":"one"},"mark":{"type":"text","font":"Liberation Sans","fontSize":10,"color":"white","align":"left","baseline":"middle"},
 "encoding":{"x":{"datum":234.19,"type":"quantitative"},"y":{"datum":3307.4,"type":"quantitative"},"text":{"value":"3307.40"}}}
]
}
